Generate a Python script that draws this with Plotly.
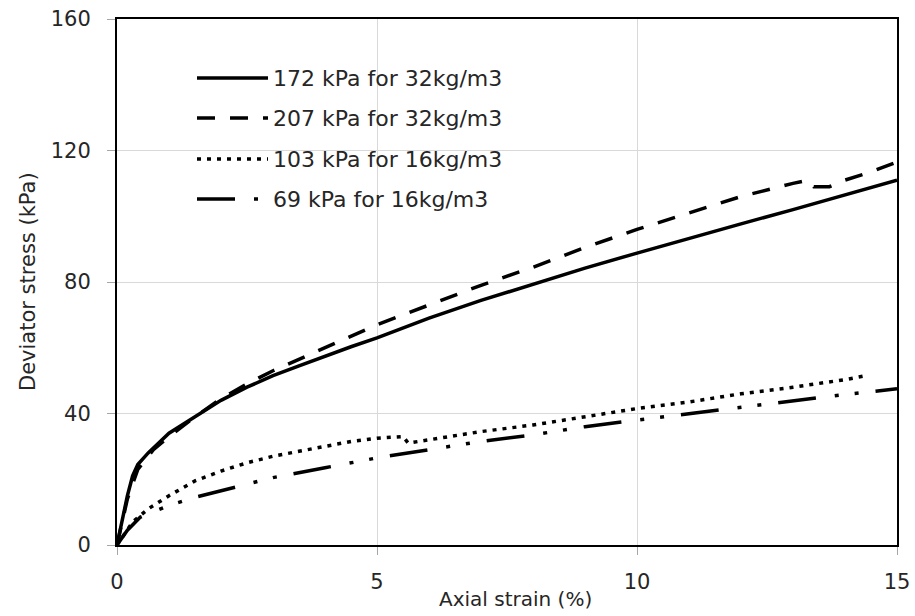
import plotly.graph_objects as go

# Triaxial test results: deviator stress vs axial strain
strain_172 = [0, 0.1, 0.2, 0.3, 0.4, 0.6, 1, 1.5, 2, 2.5, 3, 3.5, 4, 4.5, 5, 5.5, 6, 7, 8, 9, 10, 11, 12, 13, 14, 15]
stress_172 = [0, 8, 15, 21, 24.5, 28, 34, 39, 44, 48, 51.5, 54.5, 57.5, 60.3, 63, 66, 69, 74.4, 79.4, 84.2, 88.8, 93.3, 97.7, 102, 106.5, 111]

strain_207 = [0, 0.2, 0.4, 0.7, 1, 1.5, 2, 2.5, 3, 3.5, 4, 4.5, 5, 6, 7, 8, 9, 10, 11, 12, 13, 13.3, 13.4, 13.7, 14, 14.5, 15]
stress_207 = [0, 14, 23, 29, 33, 39, 44.5, 49, 53, 56.5, 60, 63.5, 67, 73, 79, 84.5, 90.5, 96, 101, 106, 110, 111, 109, 109, 111, 113.5, 116.5]

strain_103 = [0, 0.3, 0.6, 1, 1.5, 2, 2.5, 3, 3.5, 4, 4.5, 5, 5.5, 5.6, 6, 7, 8, 9, 10, 11, 12, 13, 14, 14.4]
stress_103 = [0, 7, 11, 15, 19.5, 22.5, 25, 27, 28.5, 30, 31.5, 32.5, 33, 31, 32, 34.5, 36.5, 39, 41.5, 43.5, 46, 48, 50.3, 51.5]

strain_69 = [0, 0.2, 0.45, 1, 1.5, 2, 3, 4, 5, 6, 7, 8, 9, 10, 11, 12, 13, 14, 15]
stress_69 = [0, 4.5, 8.5, 12, 14.5, 16.5, 20.5, 23.5, 26.5, 29, 31.5, 33.5, 36, 38, 40, 42, 43.8, 45.8, 47.5]

series_names = ["172 kPa for 32kg/m3", "207 kPa for 32kg/m3", "103 kPa for 16kg/m3", "69 kPa for 16kg/m3"]
series_dash = ["solid", "18px,15px", "4px,6px", "38px,19px,4px,16px,4px,17px"]

x_ticks = [0, 5, 10, 15]
y_ticks = [0, 40, 80, 120, 160]

x_title = "Axial strain (%)"
y_title = "Deviator stress (kPa)"

W, H = 915, 616
L, R, T, B = 117, 18, 19, 71
PW, PH = W - L - R, H - T - B
TEXT = "#262626"
FONT = "DejaVu Sans"


def px_to_paper(px, py):
    return (px - L) / PW, (H - B - py) / PH


fig = go.Figure()
data = [(strain_172, stress_172), (strain_207, stress_207), (strain_103, stress_103), (strain_69, stress_69)]
for (xs, ys), name, dash in zip(data, series_names, series_dash):
    fig.add_trace(go.Scatter(
        x=xs, y=ys, name=name, mode="lines",
        line=dict(color="black", width=3.5, dash=dash),
        showlegend=False,
    ))

# Legend drawn as sample lines with labels
row_y = [78, 118, 159, 199]
for name, dash, py in zip(series_names, series_dash, row_y):
    x0, y0 = px_to_paper(197, py)
    x1, _ = px_to_paper(268, py)
    fig.add_shape(type="line", xref="paper", yref="paper", x0=x0, x1=x1, y0=y0, y1=y0,
                  line=dict(color="black", width=3.5, dash=dash))
    tx, _ = px_to_paper(271, py)
    fig.add_annotation(xref="paper", yref="paper", x=tx, y=y0, text=name, showarrow=False,
                       xanchor="left", yanchor="middle",
                       font=dict(family=FONT, size=22, color=TEXT))

# Axis titles
ax, ay = px_to_paper(515, 599)
fig.add_annotation(xref="paper", yref="paper", x=ax, y=ay, text=x_title, showarrow=False,
                   xanchor="center", yanchor="middle", font=dict(family=FONT, size=20, color=TEXT))
bx, by = px_to_paper(28, 282)
fig.add_annotation(xref="paper", yref="paper", x=bx, y=by, text=y_title, showarrow=False,
                   textangle=-90, xanchor="center", yanchor="middle",
                   font=dict(family=FONT, size=21, color=TEXT))

fig.update_layout(
    width=W, height=H,
    margin=dict(l=L, r=R, t=T, b=B, autoexpand=False),
    paper_bgcolor="white", plot_bgcolor="white",
    font=dict(family=FONT, color=TEXT),
)
fig.update_xaxes(
    range=[0, 15], tickvals=x_ticks, ticktext=[str(v) for v in x_ticks],
    showgrid=True, gridcolor="#d9d9d9", gridwidth=1,
    showline=True, linecolor="black", linewidth=2, mirror=True,
    ticks="outside", ticklen=8, tickcolor="#a6a6a6",
    ticklabelstandoff=9, automargin=False,
    tickfont=dict(family=FONT, size=21, color=TEXT),
    zeroline=False,
)
fig.update_yaxes(
    range=[0, 160], tickvals=y_ticks, ticktext=[str(v) for v in y_ticks],
    showgrid=True, gridcolor="#d9d9d9", gridwidth=1,
    showline=True, linecolor="black", linewidth=2, mirror=True,
    ticks="outside", ticklen=8, tickcolor="#a6a6a6",
    ticklabelstandoff=12, automargin=False,
    tickfont=dict(family=FONT, size=21, color=TEXT),
    zeroline=False,
)

fig.write_html("out.html")
